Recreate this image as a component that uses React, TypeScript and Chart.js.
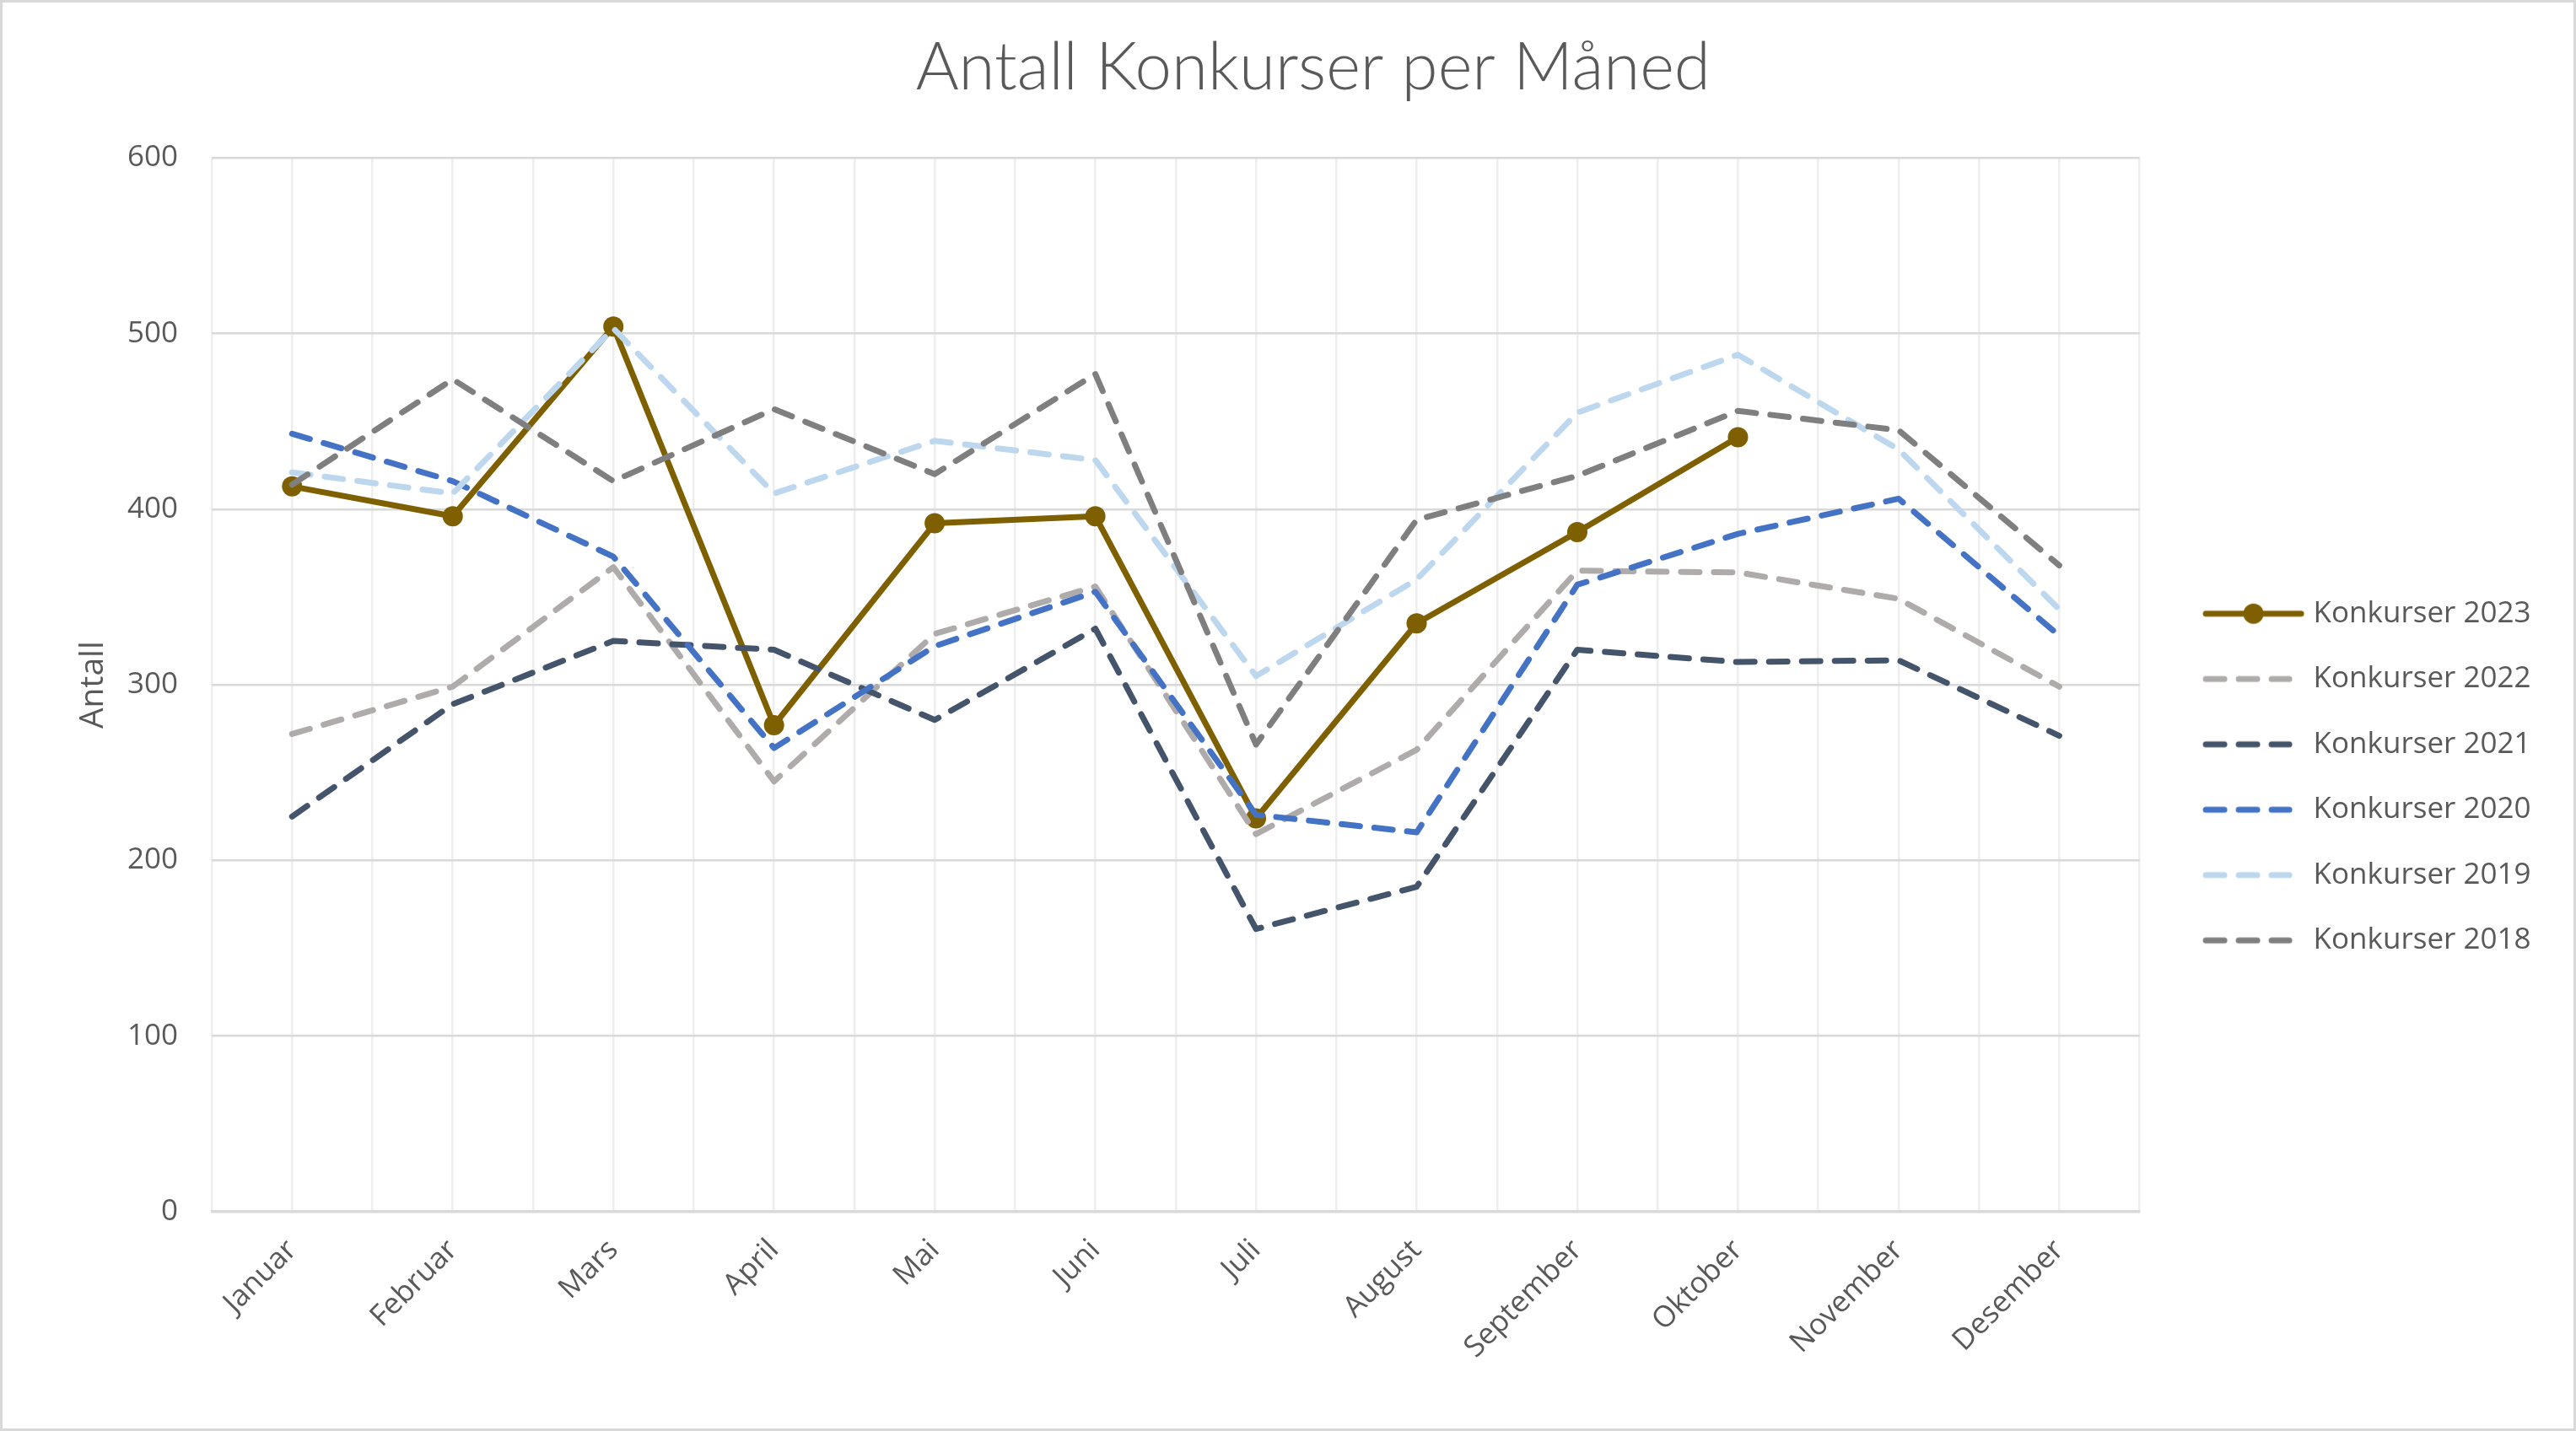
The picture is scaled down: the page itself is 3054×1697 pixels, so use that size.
import React, { useEffect, useRef } from "react";
import { Chart, registerables } from "chart.js";

Chart.register(...registerables);

const months = ["Januar", "Februar", "Mars", "April", "Mai", "Juni", "Juli", "August", "September", "Oktober", "November", "Desember"];
const seriesNames = ["Konkurser 2023", "Konkurser 2022", "Konkurser 2021", "Konkurser 2020", "Konkurser 2019", "Konkurser 2018"];
const k2023 = [413, 396, 504, 277, 392, 396, 224, 335, 387, 441];
const k2022 = [272, 299, 367, 245, 329, 356, 215, 263, 365, 364, 349, 299];
const k2021 = [225, 289, 325, 320, 280, 332, 161, 185, 320, 313, 314, 271];
const k2020 = [443, 416, 373, 264, 322, 353, 226, 216, 357, 386, 406, 328];
const k2019 = [421, 409, 503, 409, 439, 428, 305, 360, 455, 488, 434, 343];
const k2018 = [414, 474, 416, 457, 420, 477, 266, 394, 419, 456, 445, 368];
const seriesValues = [k2023, k2022, k2021, k2020, k2019, k2018];
const seriesColors = ["#7f6000", "#afabab", "#44546a", "#4472c4", "#bdd7ee", "#7f7f7f"];
const yMin = 0;
const yMax = 600;
const yStep = 100;

const TEXT = "#595959";
const LINE_W = 7;
const DASH = [22, 17];

function legendImage(color: string, dashed: boolean, marker: boolean) {
  const c = document.createElement("canvas");
  c.width = 164;
  c.height = 30;
  const ctx = c.getContext("2d")!;
  ctx.strokeStyle = color;
  ctx.lineWidth = LINE_W;
  ctx.lineCap = "round";
  ctx.setLineDash(dashed ? DASH : []);
  ctx.beginPath();
  ctx.moveTo(41.5 + 3.5, 15);
  ctx.lineTo(161.5 - 3.5 - (dashed ? 14 : 0), 15);
  ctx.stroke();
  if (marker) {
    ctx.setLineDash([]);
    ctx.fillStyle = color;
    ctx.beginPath();
    ctx.arc(101.5, 15, 12, 0, Math.PI * 2);
    ctx.fill();
  }
  return c;
}

export default function App() {
  const ref = useRef<HTMLCanvasElement | null>(null);

  useEffect(() => {
    if (!ref.current) return;
    const images = seriesNames.map((_, i) => legendImage(seriesColors[i], i !== 0, i === 0));
    const datasets = seriesNames.map((name, i) => ({
      label: name,
      data: seriesValues[i].map((v, j) => ({ x: j, y: v })),
      borderColor: seriesColors[i],
      backgroundColor: seriesColors[i],
      borderWidth: LINE_W,
      borderDash: i === 0 ? [] : DASH,
      borderCapStyle: "round" as const,
      borderJoinStyle: "round" as const,
      tension: 0,
      pointRadius: i === 0 ? 12 : 0,
      pointHoverRadius: i === 0 ? 12 : 0,
      pointBorderWidth: 0,
      pointBackgroundColor: seriesColors[i],
      order: seriesNames.length - i,
    }));

    const chart = new Chart(ref.current, {
      type: "line",
      data: { datasets },
      options: {
        animation: false,
        responsive: true,
        maintainAspectRatio: false,
        layout: { padding: { left: 100, right: 40.5, top: 0, bottom: 50 } },
        font: { family: "'Open Sans', sans-serif" },
        plugins: {
          tooltip: { enabled: false },
          title: {
            display: true,
            text: "Antall Konkurser per Måned",
            color: TEXT,
            font: { family: "Lato, 'Open Sans', sans-serif", size: 78, weight: "300" as any },
            padding: { top: 31, bottom: 59.8 },
          },
          legend: {
            position: "right",
            title: {
              display: true,
              text: " ",
              font: { size: 10 },
              padding: { top: 92, bottom: 92 },
            },
            labels: {
              usePointStyle: true,
              pointStyleWidth: 146,
              padding: 42.5,
              color: TEXT,
              font: { family: "'Open Sans', sans-serif", size: 35 },
              sort: (a: any, b: any) => a.datasetIndex - b.datasetIndex,
              generateLabels: (ch: any) => {
                const items = Chart.defaults.plugins.legend.labels.generateLabels(ch);
                return items.map((it: any) => ({ ...it, pointStyle: images[it.datasetIndex] }));
              },
            },
          },
        },
        scales: {
          x: {
            type: "linear",
            min: -0.5,
            max: months.length - 0.5,
            ticks: {
              stepSize: 0.5,
              autoSkip: false,
              minRotation: 45,
              maxRotation: 45,
              padding: 25,
              color: TEXT,
              font: { family: "'Open Sans', sans-serif", size: 35 },
              callback: (v: any) => (Number.isInteger(Number(v)) ? months[Number(v)] : ""),
            },
            grid: { color: "#eeeeee", lineWidth: 2.5, drawTicks: false },
            border: { color: "#d9d9d9", width: 3 },
          },
          y: {
            min: yMin,
            max: yMax,
            ticks: {
              stepSize: yStep,
              padding: 40,
              color: TEXT,
              font: { family: "'Open Sans', sans-serif", size: 35 },
            },
            grid: { color: "#d9d9d9", lineWidth: 2.5, drawTicks: false },
            border: { display: false },
            title: {
              display: true,
              text: "Antall",
              color: TEXT,
              font: { family: "'Open Sans', sans-serif", size: 39 },
              padding: { top: -15.4, bottom: -23.4 },
            },
          },
        },
      },
    });
    return () => chart.destroy();
  }, []);

  return (
    <div
      style={{
        position: "absolute",
        left: 0,
        top: 0,
        width: 3054,
        height: 1697,
        boxSizing: "border-box",
        border: "3px solid #d9d9d9",
        background: "#ffffff",
      }}
    >
      <canvas ref={ref} />
    </div>
  );
}
